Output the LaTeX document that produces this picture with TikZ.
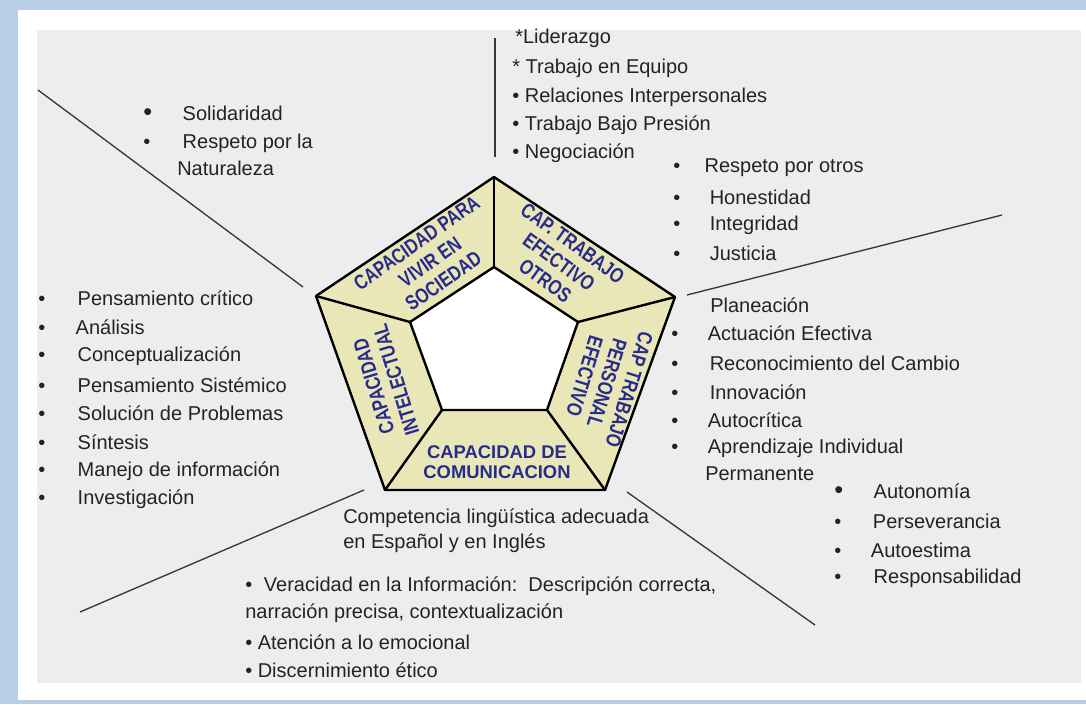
\documentclass[tikz,border=0pt]{standalone}
\usepackage{fontspec}
\setmainfont{Liberation Sans}
\usepackage{tikz}

\definecolor{bgblue}{RGB}{185,205,228}
\definecolor{panelgray}{RGB}{237,237,237}
\definecolor{khaki}{RGB}{233,231,184}
\definecolor{capblue}{RGB}{38,43,140}
\definecolor{txtgray}{RGB}{35,35,35}
\definecolor{raygray}{RGB}{55,55,55}

\begin{document}
\begin{tikzpicture}[x=0.75pt,y=0.75pt,yscale=-1,xscale=1,
    txt/.style={anchor=west,inner sep=0.75pt,text=txtgray,font=\fontsize{15}{18}\selectfont},
    caplbl/.style={inner sep=0.75pt,text=capblue,align=center,font=\bfseries\fontsize{15.5}{17.5}\selectfont},
    ray/.style={color=raygray,line width=1pt},
    pentline/.style={line width=1.8pt,line join=round}]
        \useasboundingbox (0,0) rectangle (1086,704);

        %Frame
        \fill [bgblue] (0,0) rectangle (1086,704);
        \fill [white] (18,10) rectangle (1086,700);
        \fill [panelgray] (37,30) rectangle (1081,683);

        %Pentagon corners
        \coordinate (o1) at (494,177);
        \coordinate (o2) at (675,297);
        \coordinate (o3) at (605,490);
        \coordinate (o4) at (385,490);
        \coordinate (o5) at (316,296);
        \coordinate (i1) at (494,267);
        \coordinate (i2) at (578,322);
        \coordinate (i3) at (547,410);
        \coordinate (i4) at (442,410);
        \coordinate (i5) at (410,322);

        %Shape: Polygon outer
        \draw [pentline,fill=khaki] (o1) -- (o2) -- (o3) -- (o4) -- (o5) -- cycle ;
        %Shape: Polygon inner
        \draw [pentline,fill=white] (i1) -- (i2) -- (i3) -- (i4) -- (i5) -- cycle ;
        %Straight Lines spokes
        \foreach \k in {1,...,5} {
            \draw [pentline] (o\k) -- (i\k) ;
        }

        %Straight Lines separators
        \coordinate (topA) at (495,38);
        \coordinate (topB) at (495,157);
        \coordinate (ulA) at (38,90);
        \coordinate (ulB) at (303,287);
        \coordinate (urA) at (687,295);
        \coordinate (urB) at (1002,215);
        \coordinate (lrA) at (627,492);
        \coordinate (lrB) at (815,625);
        \coordinate (llA) at (364,490);
        \coordinate (llB) at (80,612);
        \draw [ray] (topA) -- (topB) ;
        \draw [ray] (ulA) -- (ulB) ;
        \draw [ray] (urA) -- (urB) ;
        \draw [ray] (lrA) -- (lrB) ;
        \draw [ray] (llA) -- (llB) ;

        % Text Node pentagon
        \node [caplbl,rotate=35,xscale=0.8] (vivir) at (430,262) {CAPACIDAD PARA\\VIVIR EN\\SOCIEDAD};
        \node [caplbl,rotate=-36,xscale=0.8] (otros) at (559,262) {CAP. TRABAJO\\EFECTIVO\\OTROS};
        \node [caplbl,rotate=-107,xscale=0.8] (personal) at (607,383) {CAP TRABAJO\\PERSONAL\\EFECTIVO};
        \node [caplbl,rotate=107,xscale=0.8] (intel) at (385,383) {CAPACIDAD\\INTELECTUAL};
        \node [caplbl,font=\bfseries\fontsize{13.8}{15.5}\selectfont] (comun) at (497,462) {CAPACIDAD DE\\COMUNICACION};

        % Text Node top left
        \node [txt] (soli) at (142,113) {\makebox[29.6pt][l]{\fontsize{19}{19}\selectfont •}Solidaridad};
        \node [txt] (resp1) at (142,143) {\makebox[29.6pt][l]{•}Respeto por la};
        \node [txt] (resp2) at (176,168) {Naturaleza};

        % Text Node top
        \node [txt] (lider) at (514,38) {*Liderazgo};
        \node [txt] (equipo) at (511,68) {* Trabajo en Equipo};
        \node [txt] (relac) at (511,97) {• Relaciones Interpersonales};
        \node [txt] (presion) at (511,125) {• Trabajo Bajo Presión};
        \node [txt] (negoc) at (511,153) {• Negociación};

        % Text Node right upper
        \node [txt] (otros1) at (672,168) {\makebox[23.5pt][l]{•}Respeto por otros};
        \node [txt] (otros2) at (672,197) {\makebox[27.4pt][l]{•}Honestidad};
        \node [txt] (otros3) at (672,225) {\makebox[27.4pt][l]{•}Integridad};
        \node [txt] (otros4) at (672,253) {\makebox[27.4pt][l]{•}Justicia};

        % Text Node right middle
        \node [txt] (pers1) at (709,305) {Planeación};
        \node [txt] (pers2) at (670,333) {\makebox[27.4pt][l]{•}Actuación Efectiva};
        \node [txt] (pers3) at (670,363) {\makebox[28.9pt][l]{•}Reconocimiento del Cambio};
        \node [txt] (pers4) at (670,392) {\makebox[28.9pt][l]{•}Innovación};
        \node [txt] (pers5) at (670,420) {\makebox[27.4pt][l]{•}Autocrítica};
        \node [txt] (pers6) at (670,448) {\makebox[27.4pt][l]{•}Aprendizaje Individual};
        \node [txt] (pers7) at (704,474) {Permanente};

        % Text Node bottom right
        \node [txt] (auto1) at (833,491) {\makebox[29.6pt][l]{\fontsize{19}{19}\selectfont •}Autonomía};
        \node [txt] (auto2) at (833,521) {\makebox[29pt][l]{•}Perseverancia};
        \node [txt] (auto3) at (833,550) {\makebox[27.5pt][l]{•}Autoestima};
        \node [txt] (auto4) at (833,578) {\makebox[29.6pt][l]{•}Responsabilidad};

        % Text Node left
        \node [txt] (int1) at (37,298) {\makebox[29.6pt][l]{•}Pensamiento crítico};
        \node [txt] (int2) at (37,327) {\makebox[28.1pt][l]{•}Análisis};
        \node [txt] (int3) at (37,356) {\makebox[29.6pt][l]{•}Conceptualización};
        \node [txt] (int4) at (37,385) {\makebox[29.6pt][l]{•}Pensamiento Sistémico};
        \node [txt] (int5) at (37,413) {\makebox[29.6pt][l]{•}Solución de Problemas};
        \node [txt] (int6) at (37,442) {\makebox[29.6pt][l]{•}Síntesis};
        \node [txt] (int7) at (37,471) {\makebox[29.6pt][l]{•}Manejo de información};
        \node [txt] (int8) at (37,499) {\makebox[29.6pt][l]{•}Investigación};

        % Text Node bottom
        \node [txt] (comp1) at (342,518) {Competencia lingüística adecuada};
        \node [txt] (comp2) at (342,543) {en Español y en Inglés};
        \node [txt] (ver1) at (244,586) {\makebox[14pt][l]{•}Veracidad en la Información:\ \ Descripción correcta,};
        \node [txt] (ver2) at (244,613) {narración precisa, contextualización};
        \node [txt] (aten) at (244,642) {• Atención a lo emocional};
        \node [txt] (disc) at (244,670) {• Discernimiento ético};

\end{tikzpicture}
\end{document}
